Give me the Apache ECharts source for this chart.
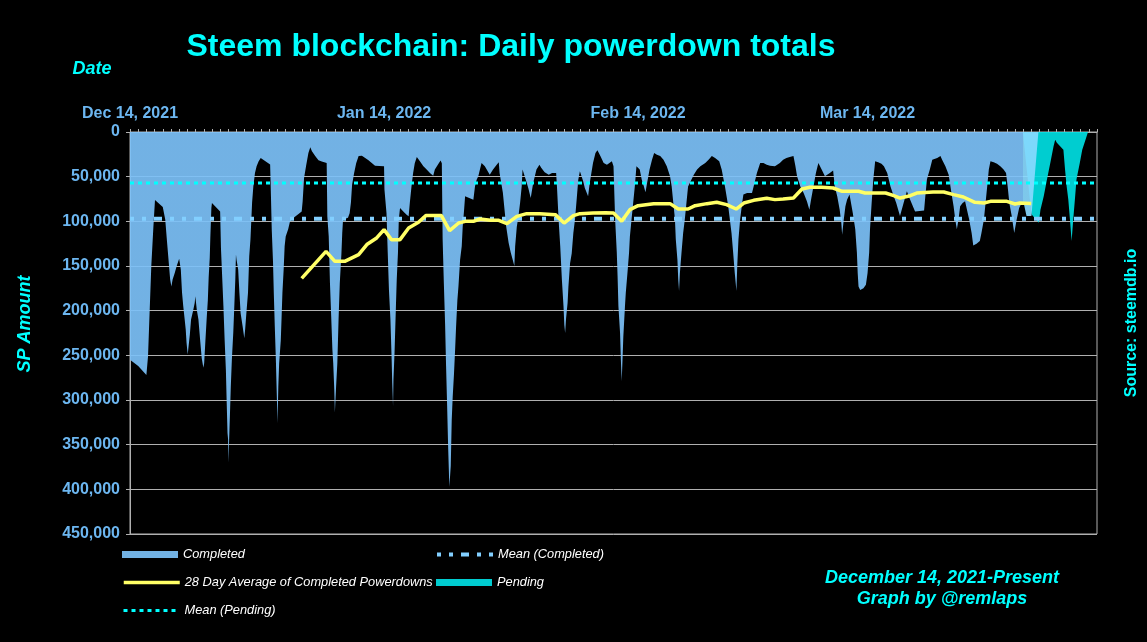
<!DOCTYPE html>
<html>
<head>
<meta charset="utf-8">
<script src="https://cdn.jsdelivr.net/npm/echarts@6/dist/echarts.min.js"></script>
<style>
  html, body { margin: 0; padding: 0; background: #000; }
  #chart { width: 1147px; height: 642px; }
</style>
</head>
<body>
<div id="chart"></div>
<script>
// x values are days since Dec 14, 2021
const tickDays = [0, 31, 62, 90];
const tickLabels = ['Dec 14, 2021', 'Jan 14, 2022', 'Feb 14, 2022', 'Mar 14, 2022'];

const completedDay = [0,1.0,2.0,2.2,2.4,2.6,2.85,3.05,4.0,4.3,4.5,4.7,4.9,5.05,5.2,5.45,5.7,6.0,6.2,6.35,6.5,6.65,6.8,6.9,7.04,7.1,7.3,7.45,7.7,7.9,7.97,8.15,8.35,8.55,8.75,8.95,9.05,9.2,9.35,9.5,9.6,9.73,9.8,9.93,10.0,11.0,11.1,11.4,11.55,11.7,11.8,11.9,11.97,12.0,12.1,12.2,12.3,12.43,12.6,12.72,12.85,12.93,13.0,13.2,13.35,13.5,13.75,13.95,14.05,14.2,14.4,14.55,14.7,14.9,15.05,15.25,15.45,15.7,15.95,17.1,17.2,17.3,17.45,17.55,17.67,17.8,17.9,18.0,18.1,18.2,18.4,18.5,18.6,18.75,18.87,19.0,19.3,19.5,19.7,20.95,21.07,21.24,21.48,21.77,22.0,22.2,22.6,23.0,23.4,24.0,24.08,24.25,24.4,24.55,24.7,24.8,24.93,25.0,25.15,25.3,25.45,25.6,25.8,25.9,26.0,26.6,26.8,26.96,27.1,27.35,27.6,27.9,28.1,28.3,28.7,29.1,29.5,29.9,30.1,31.0,31.05,31.3,31.45,31.6,31.78,31.93,32.0,32.1,32.15,32.28,32.45,32.55,32.7,32.8,32.95,33.35,33.75,34.0,34.15,34.35,34.55,34.75,35.0,35.4,35.8,36.2,36.6,37.0,37.2,37.7,37.9,38.05,38.15,38.3,38.45,38.57,38.7,38.82,38.97,39.14,39.26,39.38,39.54,39.67,39.79,39.95,40.08,40.28,40.48,40.6,40.77,40.89,41.0,41.9,42.1,42.3,42.5,42.7,42.9,43.3,43.9,44.3,44.75,45.0,45.1,45.5,45.9,46.2,46.46,46.7,46.9,47.0,47.2,47.4,47.6,47.8,47.9,48.1,48.3,48.6,48.9,49.2,49.6,49.96,50.2,50.6,51.1,51.5,52.0,52.1,52.3,52.5,52.7,52.9,53.0,53.1,53.2,53.4,53.5,53.7,53.9,54.1,54.3,54.5,54.7,54.9,55.1,55.3,55.5,55.9,56.1,56.3,56.5,56.8,57.04,57.4,57.8,58.2,58.8,59.0,59.2,59.4,59.5,59.6,59.8,59.9,60.0,60.1,60.2,60.4,60.5,60.7,60.9,61.0,61.2,61.4,61.6,61.8,62.0,62.2,62.45,62.7,62.9,63.1,63.4,63.7,63.96,64.3,64.7,65.1,65.5,65.9,66.1,66.3,66.5,66.6,66.8,66.9,67.0,67.1,67.3,67.5,67.7,67.9,68.1,68.8,69.2,69.6,70.2,70.6,71.0,71.4,71.9,72.2,72.6,73.0,73.4,73.6,73.8,74.0,74.1,74.25,74.45,74.7,74.85,75.3,75.9,76.1,76.5,76.9,77.3,77.7,78.1,78.7,78.9,79.3,79.7,80.1,80.5,80.96,81.2,81.4,81.8,82.2,82.6,82.9,83.1,83.4,83.7,84.0,84.4,84.8,85.0,85.4,85.8,86.0,86.3,86.6,86.8,86.9,87.1,87.3,87.5,87.8,87.96,88.2,88.5,88.7,88.8,88.9,89.1,89.5,89.8,90.0,90.2,90.3,90.5,90.7,90.93,91.3,91.7,92.0,92.4,92.8,93.2,93.5,93.96,94.4,94.8,95.2,95.8,96.9,97.05,97.25,97.6,97.9,98.0,98.5,98.9,99.1,99.5,99.9,100.3,100.5,100.7,100.9,101.1,101.3,101.6,101.9,102.1,102.4,102.7,102.9,103.3,103.7,103.9,104.2,104.4,104.6,104.8,105.0,105.4,105.8,106.2,106.6,106.9,107.1,107.3,107.6,107.9,108.2,108.5,108.8,109.1,109.4,110.0,110.85];
const completedSP = [255000,262000,272000,251000,200000,150000,107000,76000,84000,98000,121000,143000,165000,173000,165000,158000,150000,142000,154000,180000,195000,208000,221000,236000,249000,244000,227000,210000,200000,191000,184000,199000,210000,232000,253000,264000,259000,234000,210000,188000,163000,141000,119000,85000,79500,89000,130000,195000,233000,266000,303000,337000,344000,370000,344000,315000,285000,255000,225000,197000,165000,137000,143000,154000,180000,203000,218000,231000,221000,203000,180000,139000,120000,79000,61000,46000,38400,32800,29000,36500,72000,110000,145000,181000,218000,255000,290000,326000,285000,259000,233000,207000,180000,154000,128000,117000,109000,101000,98000,89000,77600,51500,38400,23500,17000,21600,27000,31700,33000,34700,94500,117000,169000,206000,244000,259000,289000,314000,285000,259000,210000,169000,136000,113000,98000,96000,91000,79000,59000,46000,35000,27000,25400,26500,29000,31700,34700,37700,38400,38400,64500,91000,135000,177000,210000,255000,281000,307000,277000,247000,195000,165000,135000,98000,85000,89000,92500,94400,79000,61000,46000,35000,28000,33000,38400,42000,46000,49000,42000,34700,32000,35000,120000,170000,215000,262000,307000,352000,397000,374000,322000,296000,270000,244000,218000,188000,173000,143000,128000,106000,87000,72000,70000,75700,60800,53400,49600,42000,34700,38400,47800,42000,36600,34000,46000,68000,105600,124000,135000,143000,150000,128000,106000,94400,79500,60800,42000,44000,53400,62700,73900,57000,42000,36600,40300,45000,47800,46000,46000,61000,98000,128000,165000,195000,216000,225000,210000,191000,173000,147000,136000,113000,98000,76000,53400,44000,49600,55000,62700,72000,57000,46000,34700,23500,20500,27000,34700,36600,32800,38400,98000,135000,162000,195000,225000,255000,279000,255000,229000,195000,180000,158000,135000,117000,98000,79500,61000,38400,36600,42000,53400,60800,67500,57000,42000,31000,23500,25400,27000,31000,38400,49600,61000,79500,98000,120000,143000,165000,178000,158000,135000,113000,98000,79500,61000,47800,42000,38400,34700,31000,27000,29000,32800,42000,61000,83000,113000,135000,158000,178000,150000,120000,98000,79500,70000,68300,68300,61000,46000,34700,34700,36600,37700,38400,37700,34700,31000,29000,28000,27000,38400,49600,61000,68300,77600,87000,76000,61000,46000,34700,42000,49600,51500,46000,43000,61000,72000,87000,102000,115000,98000,83000,75700,70000,72000,90700,109000,135000,158000,173000,177000,175000,171000,158000,135000,109000,79500,53400,32800,34000,35500,38400,46000,61000,72000,79500,94000,79500,66400,75700,89000,88000,72000,53000,42000,31000,30200,29000,27000,31000,38400,47800,72000,83000,98000,109000,98000,83000,79500,77600,79500,98000,113000,127000,125000,122000,113000,98000,79500,61000,42000,32800,34000,35500,38400,42000,46000,61000,79500,94400,113000,98000,85000,79500,81300,94000,94000,0];

const avgDay = [20.95,23.92,25.0,26.2,27.9,28.9,30.1,31.0,31.9,32.95,34.0,35.2,36.1,38.0,39.0,40.1,40.9,41.9,42.7,44.0,45.0,46.0,47.2,48.4,50.0,51.9,52.97,54.1,54.9,56.5,58.0,59.0,60.0,61.0,62.0,63.9,65.9,66.9,68.1,68.96,70.4,71.6,72.8,73.97,74.9,76.1,77.7,78.7,79.7,80.96,82.0,82.96,84.4,85.8,86.9,88.9,89.7,92.2,93.2,93.96,95.2,96.0,98.0,99.3,100.5,101.7,103.1,104.2,105.0,107.0,108.0,108.6,109.97];
const avgSP = [163800,133600,144800,144800,137300,126000,118600,109300,120500,120500,107500,101000,93600,93600,110400,101900,100000,100000,97400,98900,98900,102600,94400,91400,91400,92500,101900,93600,91400,90700,90300,90700,100000,86900,82500,80200,80200,86200,86200,82500,80200,78700,81300,86200,79500,76500,74200,75700,75000,73900,63800,61900,61900,62700,66400,66400,68300,68300,71300,73900,71300,68300,67200,67200,70100,72800,78700,79500,77600,77600,80600,79500,79900];

const pendingDay = [108.95,110.0,110.9,111.1,111.5,111.9,112.3,112.7,112.9,113.1,113.5,113.9,114.1,114.3,114.5,114.7,114.9,115.1,115.3,115.5,115.9,116.2,116.6,116.9];
const pendingSP = [0,92000,101500,87000,72000,53000,34700,16000,8600,12000,16000,20000,42000,61000,75700,98000,122000,98000,75700,53000,34700,19800,8600,0];

const meanCompleted = 97000;
const meanPending = 57000;

const xMin = 0, xMax = 118;
const yMin = 0, yMax = 450000, yStep = 50000;

const zip = (xs, ys) => xs.map((x, i) => [x, ys[i]]);
const FONT = '"Liberation Sans", Arial, sans-serif';
const GRID = '#b0b0b0';
const LABEL = '#6cb6f0';

const labelMap = {};
tickDays.forEach((d, i) => { labelMap[d] = tickLabels[i]; });

const chart = echarts.init(document.getElementById('chart'), null, { renderer: 'canvas' });

const legendBase = {
  orient: 'horizontal', padding: 0, itemGap: 0, selectedMode: false,
  textStyle: { color: '#ffffff', fontStyle: 'italic', fontSize: 12.8, fontFamily: FONT }
};

chart.setOption({
  backgroundColor: '#000000',
  animation: false,
  grid: { left: 130, top: 132, width: 967, height: 402, show: true, borderColor: GRID, borderWidth: 1, backgroundColor: 'transparent' },
  xAxis: {
    type: 'value', position: 'top', min: xMin, max: xMax, interval: 1,
    axisLine: { show: true, onZero: false, lineStyle: { color: GRID } },
    axisTick: { show: true, length: 3, lineStyle: { color: GRID } },
    splitLine: { show: false },
    axisLabel: {
      formatter: v => labelMap[v] || '',
      color: LABEL, fontWeight: 'bold', fontSize: 16, fontFamily: FONT, margin: 10
    }
  },
  yAxis: {
    type: 'value', inverse: true, min: yMin, max: yMax, interval: yStep,
    axisLine: { show: true, lineStyle: { color: GRID } },
    axisTick: { show: true, length: 4, lineStyle: { color: GRID } },
    splitLine: { show: true, lineStyle: { color: GRID, width: 1 } },
    axisLabel: {
      formatter: v => v.toLocaleString('en-US'),
      color: LABEL, fontWeight: 'bold', fontSize: 16, fontFamily: FONT, margin: 10
    }
  },
  visualMap: {
    type: 'piecewise', show: false, dimension: 0, seriesIndex: 1,
    pieces: [
      { gte: xMin - 1, lt: pendingDay[0], color: '#7cc1f8' },
      { gte: pendingDay[0], lte: xMax + 1, color: '#88d9ff' }
    ]
  },
  legend: [
    Object.assign({}, legendBase, { left: 122, top: 548, itemWidth: 56, itemHeight: 7,
      data: [{ name: 'Completed', icon: 'rect', itemStyle: { color: '#72b2e4', opacity: 1 } }] }),
    Object.assign({}, legendBase, { left: 435, top: 548, itemWidth: 56, itemHeight: 13,
      itemStyle: { opacity: 0 }, lineStyle: { width: 4 }, data: [{ name: 'Mean (Completed)' }] }),
    Object.assign({}, legendBase, { left: 122, top: 576, itemWidth: 56, itemHeight: 13,
      itemStyle: { opacity: 0 }, lineStyle: { width: 3.5 }, data: [{ name: '28 Day Average of Completed Powerdowns' }] }),
    Object.assign({}, legendBase, { left: 436, top: 576, itemWidth: 56, itemHeight: 7,
      data: [{ name: 'Pending', icon: 'rect', itemStyle: { color: '#00ccd0', opacity: 1 } }] }),
    Object.assign({}, legendBase, { left: 122, top: 604, itemWidth: 56, itemHeight: 13,
      itemStyle: { opacity: 0 }, lineStyle: { width: 3 }, data: [{ name: 'Mean (Pending)' }] })
  ],
  series: [
    {
      name: 'Pending', type: 'line', data: zip(pendingDay, pendingSP), symbol: 'none', z: 2,
      itemStyle: { color: '#00ccd0' },
      lineStyle: { width: 0 },
      areaStyle: { color: '#00dee2', opacity: 0.92 }
    },
    {
      name: 'Completed', type: 'line', data: zip(completedDay, completedSP), symbol: 'none', z: 3,
      itemStyle: { color: '#72b2e4' },
      lineStyle: { width: 0 },
      areaStyle: { opacity: 0.92 }
    },
    {
      name: 'Mean (Completed)', type: 'line', data: [[xMin, meanCompleted], [xMax, meanCompleted]], symbol: 'none', z: 4,
      itemStyle: { color: '#82cfff' },
      lineStyle: { color: '#82cfff', width: 4, type: [4, 8, 4, 8, 8, 8] }
    },
    {
      name: 'Mean (Pending)', type: 'line', data: [[xMin, meanPending], [xMax, meanPending]], symbol: 'none', z: 4,
      itemStyle: { color: '#00ffff' },
      lineStyle: { color: '#00ffff', width: 3, type: [4, 4] }
    },
    {
      name: '28 Day Average of Completed Powerdowns', type: 'line', data: zip(avgDay, avgSP), symbol: 'none', z: 5,
      itemStyle: { color: '#ffff66' },
      lineStyle: { color: '#ffff66', width: 3.5 }
    }
  ],
  graphic: [
    { type: 'text', x: 511, y: 47, style: { text: 'Steem blockchain: Daily powerdown totals', fill: '#00ffff',
      font: 'bold 32px ' + FONT, textAlign: 'center', textVerticalAlign: 'middle' } },
    { type: 'text', x: 92, y: 69, style: { text: 'Date', fill: '#00ffff',
      font: 'italic bold 18px ' + FONT, textAlign: 'center', textVerticalAlign: 'middle' } },
    { type: 'text', x: 25, y: 324, rotation: Math.PI / 2, style: { text: 'SP Amount', fill: '#00ffff',
      font: 'italic bold 18px ' + FONT, textAlign: 'center', textVerticalAlign: 'middle' } },
    { type: 'text', x: 1132, y: 323, rotation: Math.PI / 2, style: { text: 'Source: steemdb.io', fill: '#00ffff',
      font: 'bold 16px ' + FONT, textAlign: 'center', textVerticalAlign: 'middle' } },
    { type: 'text', x: 942, y: 578, style: { text: 'December 14, 2021-Present', fill: '#00ffff',
      font: 'italic bold 18px ' + FONT, textAlign: 'center', textVerticalAlign: 'middle' } },
    { type: 'text', x: 942, y: 599, style: { text: 'Graph by @remlaps', fill: '#00ffff',
      font: 'italic bold 18px ' + FONT, textAlign: 'center', textVerticalAlign: 'middle' } }
  ]
});
</script>
</body>
</html>
